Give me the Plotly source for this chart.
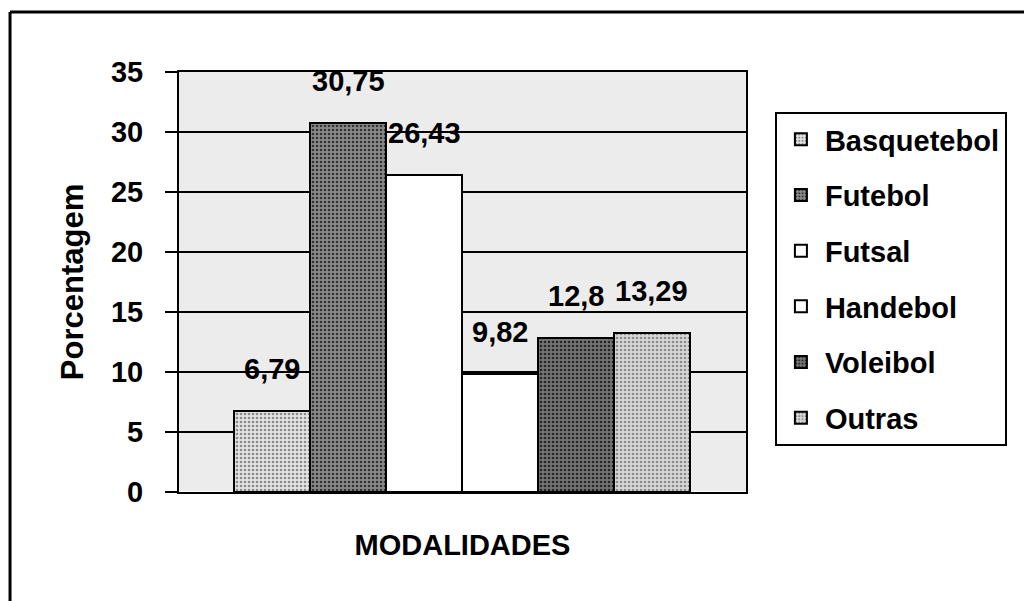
import plotly.graph_objects as go

# data
modalidades = ['Basquetebol', 'Futebol', 'Futsal', 'Handebol', 'Voleibol', 'Outras']
porcentagem = [6.79, 30.75, 26.43, 9.82, 12.8, 13.29]
y_ticks = [0, 5, 10, 15, 20, 25, 30, 35]

# fill styles (excel-ish halftone look)
fill_bg = ['#e4e4e4', '#8a8a8a', 'white', 'white', '#747474', '#d9d9d9']
fill_fg = ['#8a8a8a', '#333333', 'white', 'white', '#262626', '#8a8a8a']
fill_shape = ['.', '.', '', '', '.', '.']

FONT = 'Liberation Sans, Arial, sans-serif'

fig = go.Figure()
for i, name in enumerate(modalidades):
    fig.add_trace(go.Bar(
        x=[name], y=[porcentagem[i]], name=name,
        legendgroup=name,
        marker=dict(
            color=fill_bg[i],
            line=dict(color='black', width=2),
            pattern=dict(shape=fill_shape[i], bgcolor=fill_bg[i], fgcolor=fill_fg[i],
                         size=4, solidity=0.35, fillmode='replace'),
        ),
    ))

# value labels, comma as decimal separator
for name, v in zip(modalidades, porcentagem):
    fig.add_annotation(
        x=name, y=v, text=f'<b>{str(v).replace(".", ",")}</b>',
        showarrow=False, yanchor='bottom', yshift=24,
        font=dict(family=FONT, size=29, color='black'),
    )

# outer chart frame (left and top edges are the only ones in view)
fig.add_shape(type='line', xref='paper', yref='paper', x0=-0.298, x1=-0.298, y0=1.143, y1=-0.3,
              line=dict(color='black', width=3))
fig.add_shape(type='line', xref='paper', yref='paper', x0=-0.298, x1=1.6, y0=1.143, y1=1.143,
              line=dict(color='black', width=3))

# page body has an 8px margin, so the figure is 8px smaller than the window
fig.update_layout(
    width=1024, height=593,
    margin=dict(l=171, r=286, t=64, b=109),
    barmode='overlay', bargap=0,
    plot_bgcolor='#ececec', paper_bgcolor='white',
    font=dict(family=FONT, size=29, color='black'),
    showlegend=True,
    legend=dict(
        x=1.051, y=0.905, xanchor='left', yanchor='top',
        bordercolor='black', borderwidth=2, bgcolor='white',
        traceorder='grouped', tracegroupgap=15, itemwidth=38,
        font=dict(family=FONT, size=29, color='black', weight='bold'),
    ),
)
fig.update_xaxes(
    range=[-1.224, 6.237], showticklabels=False, ticks='',
    showline=True, mirror=True, linecolor='black', linewidth=2,
    title=dict(text='<b>MODALIDADES</b>', standoff=42, font=dict(size=29)),
)
fig.update_yaxes(
    range=[0, 35], tickvals=y_ticks, ticks='outside', ticklen=12, tickwidth=2, tickcolor='black',
    showgrid=True, gridcolor='black', gridwidth=2,
    showline=True, mirror=True, linecolor='black', linewidth=2,
    ticklabelstandoff=16, tickfont=dict(size=29, weight='bold'),
    title=dict(text='<b>Porcentagem</b>', standoff=18, font=dict(size=31)),
)

fig.write_html('out.html')
